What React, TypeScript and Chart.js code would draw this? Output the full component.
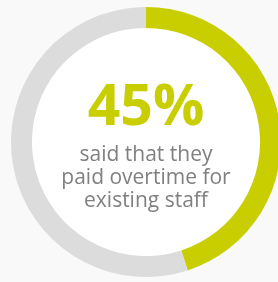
import React, { useEffect, useRef } from "react";
import { Chart, registerables } from "chart.js";

Chart.register(...registerables);

const categories = ["Paid overtime for existing staff", "Other"];
const values = [45, 55];
const headline = "45%";
const captionLines = ["said that they", "paid overtime for", "existing staff"];

const GREEN = "#c8ce00";
const RING_GRAY = "#dcdcdc";
const TEXT_GRAY = "#808080";

export default function App() {
  const ref = useRef<HTMLCanvasElement | null>(null);

  useEffect(() => {
    document.body.style.margin = "0";
    document.body.style.background = "#f9f9f9";
    const canvas = ref.current;
    if (!canvas) return;

    const centerPlugin = {
      id: "centerText",
      beforeDatasetsDraw(chart: any) {
        const meta = chart.getDatasetMeta(0);
        const arc = meta.data[0];
        if (!arc) return;
        const { x, y, innerRadius } = arc;
        const ctx = chart.ctx;
        ctx.save();
        ctx.beginPath();
        ctx.arc(x, y, innerRadius, 0, Math.PI * 2);
        ctx.fillStyle = "#ffffff";
        ctx.fill();
        ctx.restore();
      },
      afterDatasetsDraw(chart: any) {
        const meta = chart.getDatasetMeta(0);
        const arc = meta.data[0];
        if (!arc) return;
        const { x, y } = arc;
        const ctx = chart.ctx;
        ctx.save();
        ctx.textAlign = "center";
        ctx.textBaseline = "alphabetic";
        ctx.fillStyle = GREEN;
        ctx.font = "bold 57px 'Open Sans'";
        ctx.fillText(headline, x, y - 17);
        ctx.fillStyle = TEXT_GRAY;
        ctx.font = "21px 'Open Sans'";
        captionLines.forEach((line, i) => {
          ctx.fillText(line, x, y + 19 + i * 23);
        });
        ctx.restore();
      },
    };

    const chart = new Chart(canvas, {
      type: "doughnut",
      data: {
        labels: categories,
        datasets: [
          {
            data: values,
            backgroundColor: [GREEN, RING_GRAY],
            borderWidth: 0,
            hoverOffset: 0,
          },
        ],
      },
      options: {
        responsive: false,
        maintainAspectRatio: false,
        animation: false,
        cutout: "84.5%",
        layout: { padding: 7 },
        plugins: {
          legend: { display: false },
          tooltip: { enabled: false },
        },
      },
      plugins: [centerPlugin],
    });

    return () => chart.destroy();
  }, []);

  return (
    <div style={{ width: 278, height: 282, overflow: "hidden", background: "#f9f9f9" }}>
      <canvas ref={ref} width={292} height={284} style={{ display: "block", width: 292, height: 284 }} />
    </div>
  );
}
